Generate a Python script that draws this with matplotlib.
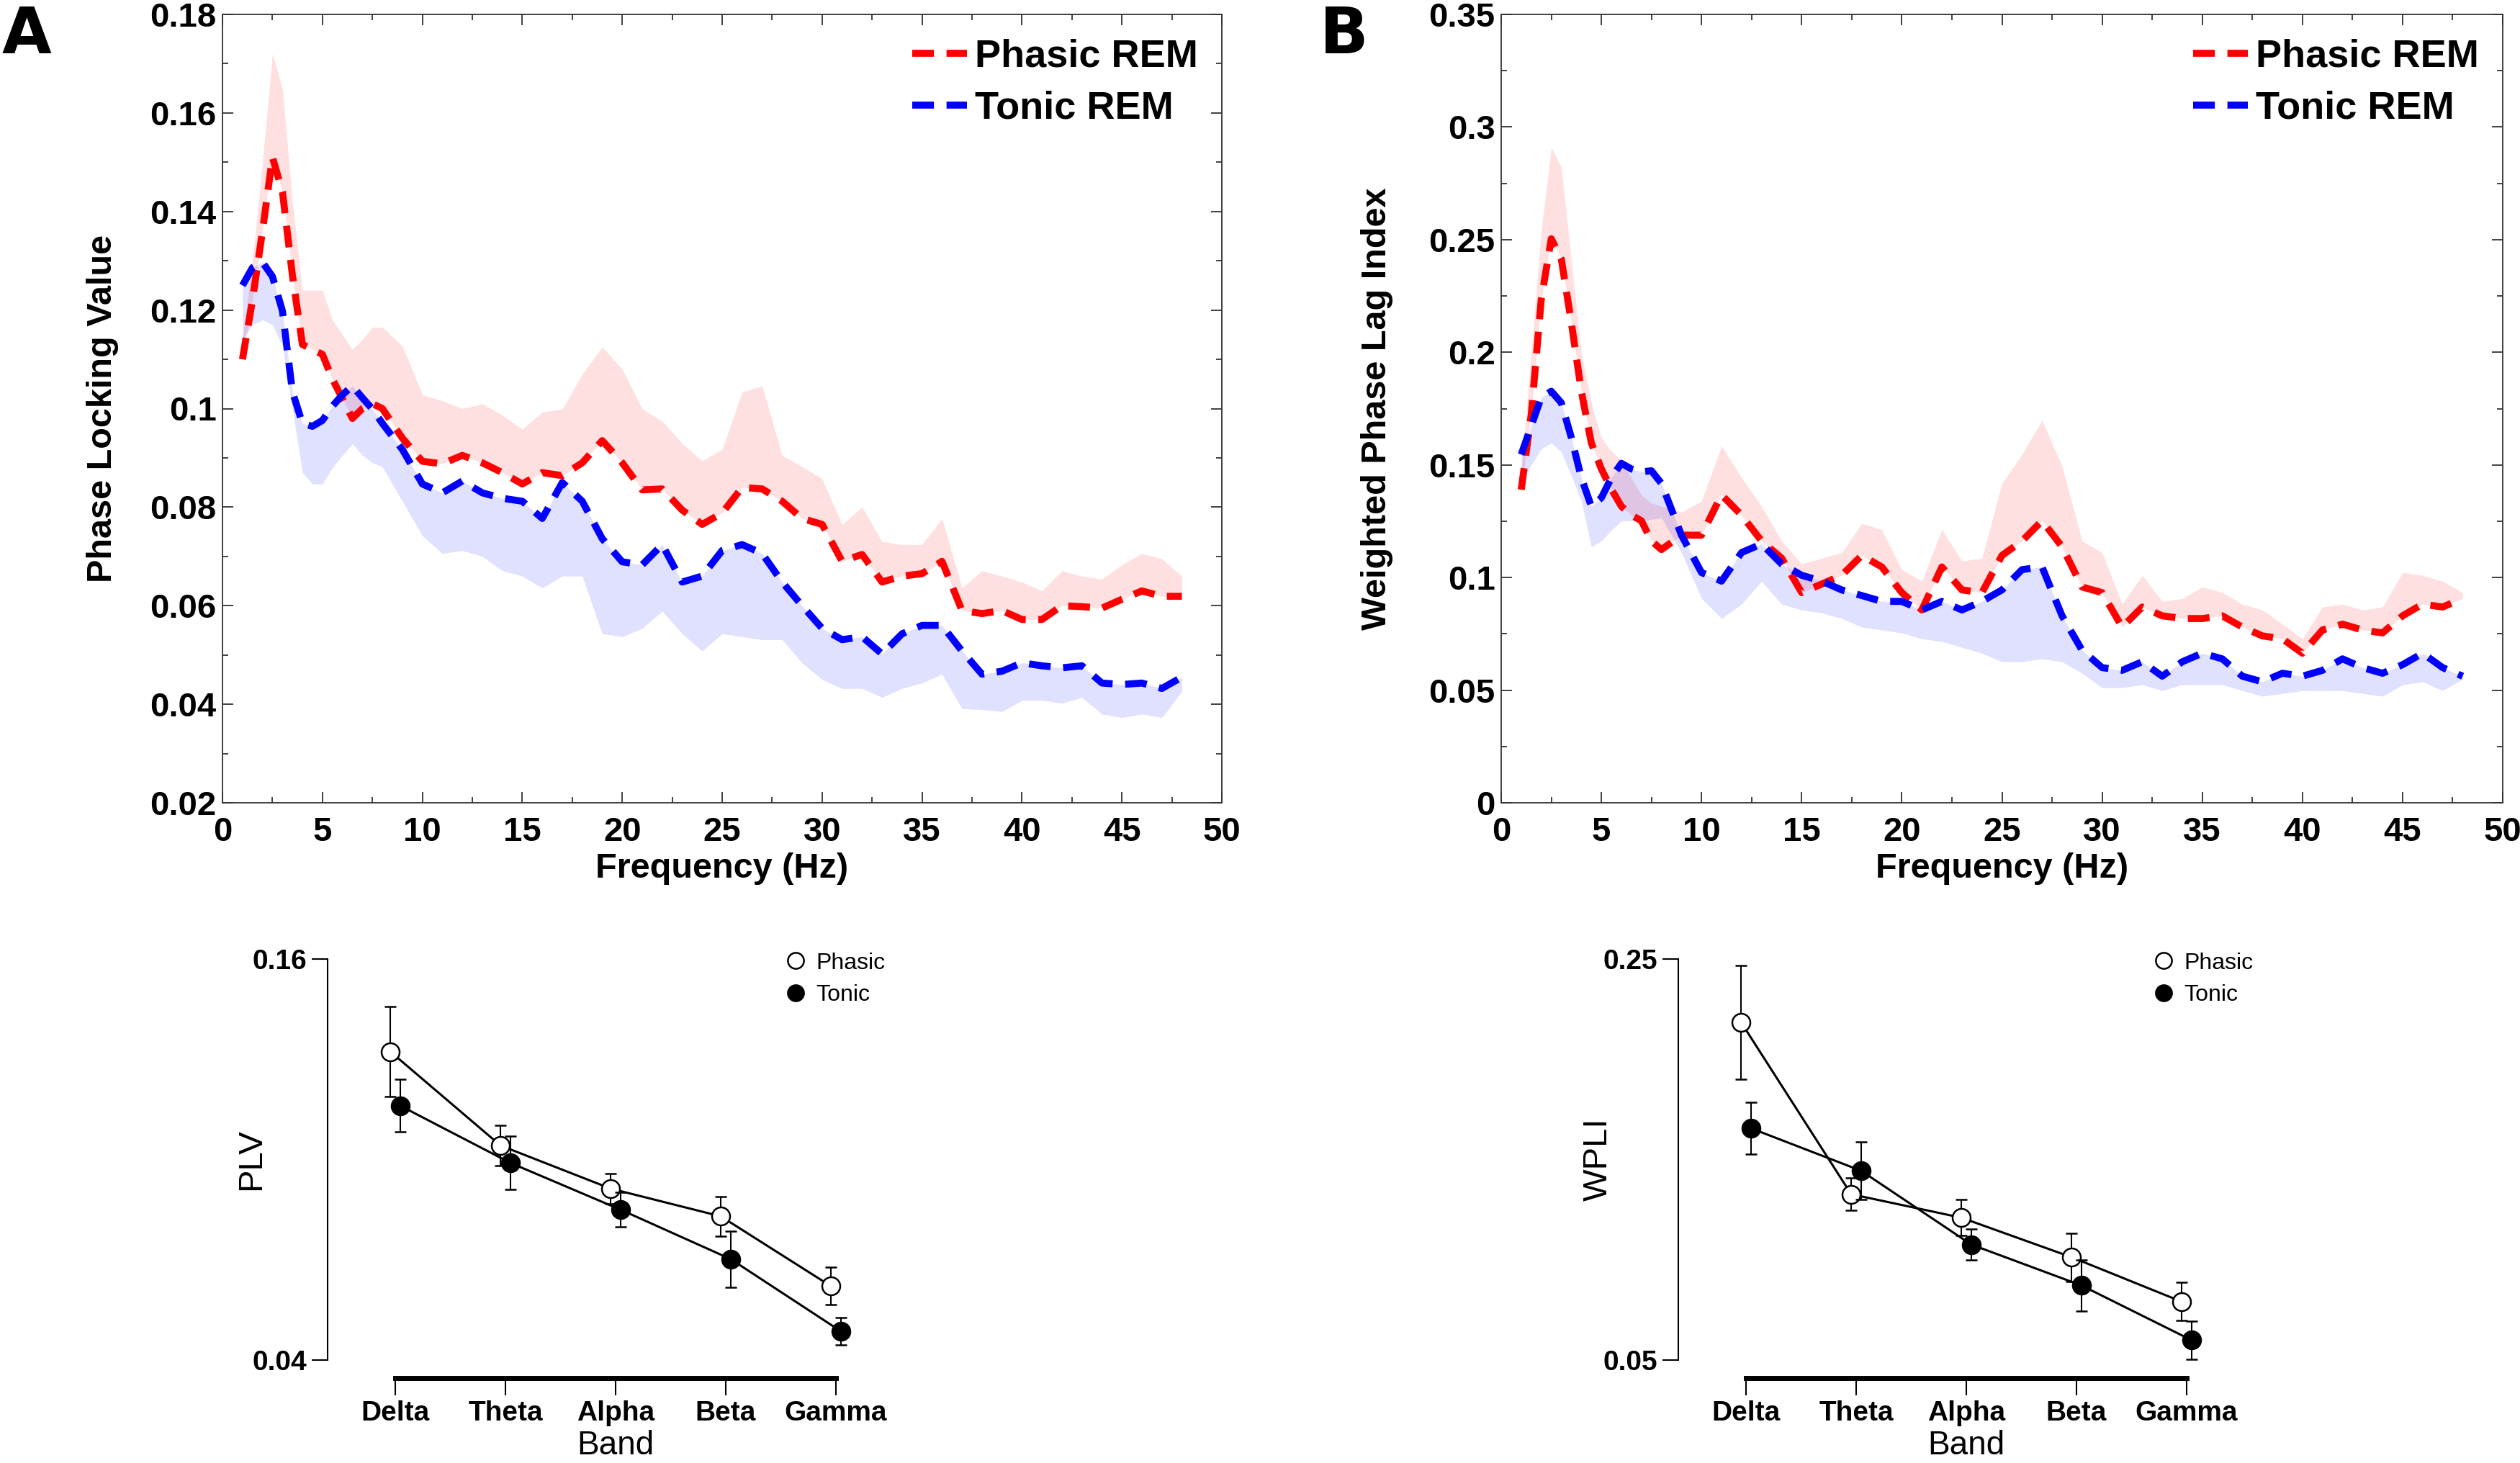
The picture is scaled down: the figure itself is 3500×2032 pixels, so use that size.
import matplotlib
matplotlib.use('Agg')
import matplotlib.pyplot as plt
import numpy as np
from matplotlib.ticker import MultipleLocator, FuncFormatter
from matplotlib.lines import Line2D

plt.rcParams['font.family'] = ['Liberation Sans', 'DejaVu Sans']

# frequency grid (Hz)
freq = [1, 1.5, 2, 2.5, 3, 3.5, 4, 4.5, 5, 5.5, 6, 6.5, 7, 7.5, 8,
        9, 10, 11, 12, 13, 14, 15, 16, 17, 18, 19, 20, 21, 22, 23, 24, 25, 26, 27, 28,
        29, 30, 31, 32, 33, 34, 35, 36, 37, 38, 39, 40, 41, 42, 43, 44, 45, 46, 47, 48]

# PLV
plv_phasic = [0.110, 0.122, 0.136, 0.151, 0.144, 0.127, 0.113, 0.112, 0.111, 0.106, 0.102, 0.098, 0.100, 0.101, 0.100,
              0.094, 0.0893, 0.0888, 0.0905, 0.089, 0.087, 0.0847, 0.087, 0.0864, 0.089, 0.0935, 0.089, 0.0835, 0.0837,
              0.0794, 0.0765, 0.0788, 0.084, 0.0837, 0.0812, 0.0777, 0.0765, 0.069, 0.0704, 0.0648, 0.066, 0.0665, 0.069,
              0.059, 0.0584, 0.059, 0.0572, 0.0572, 0.060, 0.0598, 0.0595, 0.0613, 0.063, 0.0619, 0.0619]
plv_phasic_up = [0.114, 0.130, 0.150, 0.172, 0.165, 0.142, 0.124, 0.124, 0.124, 0.118, 0.115, 0.112, 0.114, 0.1165, 0.1165,
                 0.1127, 0.1028, 0.1016, 0.100, 0.101, 0.0987, 0.0958, 0.0993, 0.0999, 0.107, 0.1125, 0.108, 0.0999, 0.0975,
                 0.0929, 0.0894, 0.0917, 0.1034, 0.1046, 0.0905, 0.0882, 0.0858, 0.0765, 0.080, 0.073, 0.0724, 0.0724, 0.0777,
                 0.0636, 0.0671, 0.066, 0.0648, 0.063, 0.0671, 0.066, 0.0654, 0.0683, 0.0706, 0.0695, 0.066]
plv_tonic = [0.125, 0.1286, 0.1297, 0.1268, 0.1198, 0.1034, 0.097, 0.0964, 0.0976, 0.1005, 0.1028, 0.1046, 0.1022, 0.0999, 0.097,
             0.0917, 0.0847, 0.0829, 0.0853, 0.0829, 0.0818, 0.0812, 0.0777, 0.085, 0.0812, 0.0736, 0.0689, 0.0683, 0.0724,
             0.0648, 0.066, 0.0712, 0.0724, 0.0706, 0.0648, 0.060, 0.0554, 0.0531, 0.0537, 0.0502, 0.0543, 0.056, 0.056,
             0.0508, 0.0461, 0.0467, 0.0484, 0.0478, 0.0474, 0.0478, 0.0443, 0.044, 0.0443, 0.0432, 0.0455]
plv_tonic_lo = [0.114, 0.117, 0.118, 0.117, 0.1127, 0.100, 0.087, 0.0847, 0.0847, 0.088, 0.0905, 0.0929, 0.0905, 0.089, 0.0882,
                0.0812, 0.0742, 0.0706, 0.0712, 0.070, 0.0671, 0.066, 0.0636, 0.066, 0.066, 0.0543, 0.0537, 0.0554, 0.0589,
                0.0543, 0.0508, 0.0543, 0.0537, 0.0531, 0.0531, 0.0484, 0.045, 0.0432, 0.0432, 0.0414, 0.0432, 0.0443, 0.0461,
                0.0391, 0.0389, 0.0385, 0.0408, 0.0408, 0.0402, 0.0414, 0.038, 0.0373, 0.038, 0.0373, 0.0426]

# WPLI
wpli_phasic = [0.139, 0.1724, 0.2235, 0.2504, 0.2414, 0.2133, 0.1827, 0.1597, 0.1482, 0.1392, 0.1316, 0.1277, 0.1252, 0.1162, 0.1124,
               0.1188, 0.1188, 0.1367, 0.1277, 0.1162, 0.1086, 0.0933, 0.0971, 0.101, 0.1098, 0.1047, 0.0933, 0.0856, 0.1047,
               0.0945, 0.0933, 0.1098, 0.1162, 0.1252, 0.1137, 0.0958, 0.0933, 0.078, 0.0869, 0.083, 0.0818, 0.0818, 0.083,
               0.078, 0.0741, 0.0728, 0.0664, 0.0767, 0.0793, 0.0767, 0.0754, 0.083, 0.0882, 0.0869, 0.0907]
wpli_phasic_up = [0.147, 0.200, 0.254, 0.291, 0.282, 0.241, 0.200, 0.1776, 0.162, 0.156, 0.152, 0.144, 0.1367, 0.133, 0.1316,
                  0.129, 0.134, 0.1584, 0.1443, 0.1316, 0.1162, 0.106, 0.1086, 0.1111, 0.124, 0.1213, 0.1035, 0.0984, 0.1213,
                  0.1073, 0.1086, 0.1418, 0.1546, 0.1699, 0.1495, 0.1162, 0.1111, 0.0882, 0.101, 0.0894, 0.0907, 0.0958, 0.0933,
                  0.0882, 0.0856, 0.0793, 0.0728, 0.0869, 0.0882, 0.0856, 0.0869, 0.1022, 0.101, 0.0984, 0.0933]
wpli_tonic = [0.1546, 0.1673, 0.180, 0.1827, 0.1776, 0.1622, 0.1443, 0.1316, 0.1354, 0.1443, 0.1507, 0.1482, 0.1469, 0.1474, 0.1418,
              0.1188, 0.1022, 0.0984, 0.1111, 0.1149, 0.106, 0.101, 0.0984, 0.0945, 0.092, 0.0894, 0.0894, 0.0856, 0.0894,
              0.0856, 0.0894, 0.0945, 0.1035, 0.1047, 0.083, 0.0677, 0.060, 0.0588, 0.0626, 0.0562, 0.0626, 0.0664, 0.0639,
              0.0562, 0.0537, 0.0575, 0.0562, 0.0588, 0.0639, 0.060, 0.0575, 0.0613, 0.0664, 0.060, 0.0562]
wpli_tonic_lo = [0.1418, 0.150, 0.1571, 0.1597, 0.1558, 0.145, 0.1341, 0.1137, 0.1162, 0.121, 0.1252, 0.1252, 0.1252, 0.1258, 0.1265,
                 0.1111, 0.0907, 0.0818, 0.0882, 0.0984, 0.0882, 0.0856, 0.0843, 0.0818, 0.078, 0.0767, 0.0754, 0.0728, 0.0716,
                 0.069, 0.0664, 0.0626, 0.0626, 0.0639, 0.0626, 0.0575, 0.0511, 0.0511, 0.0524, 0.0498, 0.0524, 0.0524, 0.0524,
                 0.0498, 0.0473, 0.0485, 0.0498, 0.0498, 0.0498, 0.0485, 0.0473, 0.0524, 0.0537, 0.0498, 0.0549]

# band averages (mean, sem)
bands = ['Delta', 'Theta', 'Alpha', 'Beta', 'Gamma']
band_plv_phasic = [0.1323, 0.1042, 0.0913, 0.083, 0.0621]
band_plv_phasic_err = [0.0135, 0.006, 0.0046, 0.006, 0.0056]
band_plv_tonic = [0.1161, 0.099, 0.085, 0.0702, 0.0486]
band_plv_tonic_err = [0.0079, 0.008, 0.0052, 0.0084, 0.0041]
band_wpli_phasic = [0.2185, 0.1327, 0.121, 0.1013, 0.0791]
band_wpli_phasic_err = [0.0284, 0.008, 0.009, 0.012, 0.0095]
band_wpli_tonic = [0.1656, 0.1444, 0.1076, 0.0872, 0.0599]
band_wpli_tonic_err = [0.013, 0.0144, 0.0077, 0.0128, 0.0094]

W, H = 3500, 2032
fig = plt.figure(figsize=(W / 100, H / 100), dpi=100)

dash = (0, (3.1, 1.8))
fmt = FuncFormatter(lambda v, p: f'{v:.4g}')
frame = '#333333'


def top_panel(ax, ph, ph_up, to, to_lo, ylim, major, minor, ylabel, lab_x):
    ax.fill_between(freq, ph, ph_up, color='red', alpha=0.12, lw=0)
    ax.fill_between(freq, to_lo, to, color='blue', alpha=0.12, lw=0)
    ax.plot(freq, ph, color='red', lw=7, ls=dash, label='Phasic REM')
    ax.plot(freq, to, color='blue', lw=7, ls=dash, label='Tonic REM')
    ax.set_xlim(0, 50)
    ax.set_ylim(*ylim)
    ax.xaxis.set_major_locator(MultipleLocator(5))
    ax.xaxis.set_minor_locator(MultipleLocator(2.5))
    ax.yaxis.set_major_locator(MultipleLocator(major))
    ax.yaxis.set_minor_locator(MultipleLocator(minor))
    ax.yaxis.set_major_formatter(fmt)
    ax.tick_params(which='both', direction='in', top=True, right=True, width=1.3, color=frame)
    ax.tick_params(which='major', length=11)
    ax.tick_params(which='minor', length=5.5)
    ax.tick_params(axis='y', labelsize=34, pad=6)
    ax.tick_params(axis='x', labelsize=34, pad=14)
    for t in ax.get_xticklabels() + ax.get_yticklabels():
        t.set_fontweight('bold')
    for s in ax.spines.values():
        s.set_linewidth(1.3)
        s.set_color(frame)
    ax.set_xlabel('Frequency (Hz)', fontsize=35, fontweight='bold')
    ax.set_ylabel(ylabel, fontsize=35, fontweight='bold')
    ax.yaxis.set_label_coords(lab_x, 0.5)
    ax.legend(loc='upper right', bbox_to_anchor=(0.976, 0.969), frameon=False,
              prop={'size': 39, 'weight': 'bold'}, handlelength=1.4, handletextpad=0.2,
              labelspacing=0.4, borderpad=0, borderaxespad=0)


def bottom_panel(ax, ph, ph_err, to, to_err, ylim, ylabel, lab_x, leg_x):
    x = np.arange(len(bands))
    ax.errorbar(x - 0.045, ph, yerr=ph_err, color='black', lw=2.2, marker='o', ms=18,
                mfc='white', mec='black', mew=1.8, capsize=6, elinewidth=1.5, capthick=1.5,
                zorder=3, clip_on=False)
    ax.errorbar(x + 0.045, to, yerr=to_err, color='black', lw=2.2, marker='o', ms=18,
                mfc='black', mec='black', mew=1.8, capsize=6, elinewidth=1.5, capthick=1.5,
                zorder=4, clip_on=False)
    ax.set_xlim(-0.614, 4.614)
    ax.set_ylim(*ylim)
    ax.spines['top'].set_visible(False)
    ax.spines['right'].set_visible(False)
    ax.spines['left'].set_bounds(*ylim)
    ax.spines['left'].set_linewidth(1.5)
    ax.spines['bottom'].set_position(('outward', 18))
    ax.spines['bottom'].set_bounds(0, 4)
    ax.spines['bottom'].set_linewidth(5)
    ax.set_xticks(x)
    ax.set_xticklabels(bands, fontsize=28, fontweight='bold')
    ax.set_yticks(list(ylim))
    ax.set_yticklabels([f'{v:g}' for v in ylim], fontsize=28, fontweight='bold')
    ax.tick_params(axis='x', direction='out', length=17, width=1.5, pad=5)
    ax.tick_params(axis='y', direction='out', length=16, width=1.5, pad=5)
    ax.set_xlabel('Band', fontsize=33, labelpad=4)
    ax.set_ylabel(ylabel, fontsize=34)
    ax.yaxis.set_label_coords(lab_x, 0.5)
    handles = [Line2D([], [], ls='none', marker='o', ms=16, mfc='white', mec='black', mew=1.8),
               Line2D([], [], ls='none', marker='o', ms=16, mfc='black', mec='black', mew=1.8)]
    ax.legend(handles, ['Phasic', 'Tonic'], loc='upper left', bbox_to_anchor=(leg_x, 1.017),
              frameon=False, fontsize=23, handlelength=0.8, handletextpad=0.5,
              labelspacing=0.45, borderpad=0, borderaxespad=0)


ax1 = fig.add_axes([309 / W, 1 - 1115 / H, 1388 / W, 1095 / H])
ax2 = fig.add_axes([2085 / W, 1 - 1115 / H, 1391 / W, 1095 / H])
ax3 = fig.add_axes([455 / W, 1 - 1889 / H, 800 / W, 557 / H])
ax4 = fig.add_axes([2331 / W, 1 - 1889 / H, 800 / W, 557 / H])

top_panel(ax1, plv_phasic, plv_phasic_up, plv_tonic, plv_tonic_lo, (0.02, 0.18), 0.02, 0.01,
          'Phase Locking Value', -0.104)
top_panel(ax2, wpli_phasic, wpli_phasic_up, wpli_tonic, wpli_tonic_lo, (0, 0.35), 0.05, 0.025,
          'Weighted Phase Lag Index', -0.108)

bottom_panel(ax3, band_plv_phasic, band_plv_phasic_err, band_plv_tonic, band_plv_tonic_err,
             (0.04, 0.16), 'PLV', -0.105, 0.796)
bottom_panel(ax4, band_wpli_phasic, band_wpli_phasic_err, band_wpli_tonic, band_wpli_tonic_err,
             (0.05, 0.25), 'WPLI', -0.111, 0.826)

fig.text(3 / W, 1 - 74 / H, 'A', fontsize=64, fontweight='bold', family='DejaVu Sans', va='baseline', ha='left')
fig.text(1833 / W, 1 - 74 / H, 'B', fontsize=64, fontweight='bold', family='DejaVu Sans', va='baseline', ha='left')

fig.savefig('out.png', dpi=100)
plt.close()
